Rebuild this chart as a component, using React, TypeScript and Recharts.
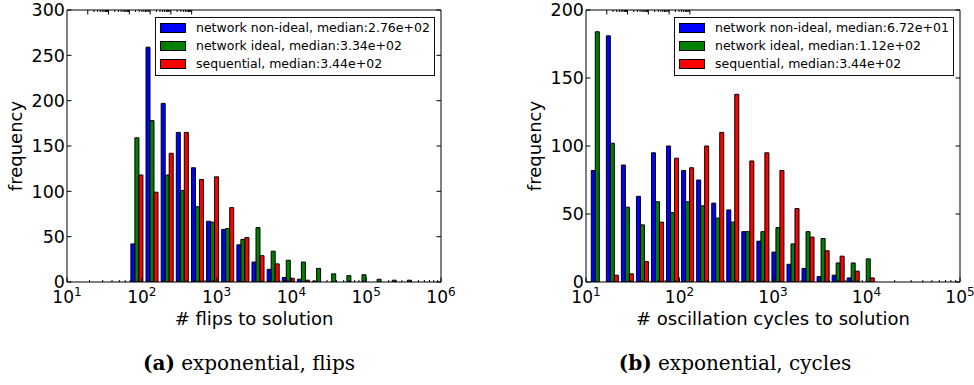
import React from 'react';
import { BarChart, Bar, XAxis, YAxis, Legend } from 'recharts';

// log10 of the bin centres (bins are equal width in log space)
const flipsBinLog = [1.935, 2.137, 2.34, 2.542, 2.745, 2.947, 3.149, 3.352, 3.554, 3.757, 3.959, 4.161, 4.364, 4.566, 4.769, 4.971, 5.173, 5.376, 5.578];
const flipsNonIdeal = [42, 259, 197, 165, 126, 67, 58, 41, 22, 14, 5, 3, 1, 0, 0, 0, 0, 0, 0];
const flipsIdeal = [159, 178, 118, 101, 83, 66, 59, 47, 60, 34, 24, 22, 15, 9, 7, 8, 3, 2, 2];
const flipsSequential = [118, 99, 142, 165, 113, 116, 82, 49, 29, 20, 4, 2, 0, 0, 0, 0, 0, 0, 0];

const cyclesBinLog = [1.121, 1.282, 1.443, 1.604, 1.765, 1.926, 2.087, 2.248, 2.409, 2.57, 2.731, 2.892, 3.053, 3.214, 3.375, 3.536, 3.697, 3.858, 4.019];
const cyclesNonIdeal = [82, 181, 86, 63, 95, 100, 82, 75, 58, 53, 37, 30, 22, 13, 10, 4, 5, 3, 0];
const cyclesIdeal = [184, 102, 55, 42, 59, 51, 59, 56, 47, 44, 37, 37, 40, 28, 37, 32, 14, 14, 17];
const cyclesSequential = [0, 5, 6, 15, 44, 91, 84, 100, 110, 138, 89, 95, 82, 54, 33, 23, 19, 8, 3];

const flipsNames = ['network non-ideal, median:2.76e+02', 'network ideal, median:3.34e+02', 'sequential, median:3.44e+02'];
const cyclesNames = ['network non-ideal, median:6.72e+01', 'network ideal, median:1.12e+02', 'sequential, median:3.44e+02'];
const seriesColors = ['#0000ff', '#008000', '#ff0000'];

const flipsYTicks = [0, 50, 100, 150, 200, 250, 300];
const cyclesYTicks = [0, 50, 100, 150, 200];

const FONT = 'DejaVu Sans';
const MAJOR = 4.5;
const MINOR = 2;
const CHART_H = 345;

// decade ticks plus the 2..9 minor ticks of a log axis, in log10 units
const logTicks = (lo: number, hi: number) => {
  const out: number[] = [];
  for (let n = lo; n <= hi; n++) {
    out.push(n);
    if (n < hi) for (let k = 2; k < 10; k++) out.push(n + Math.log10(k));
  }
  return out;
};

const isMajor = (v: number) => Math.abs(v - Math.round(v)) < 1e-6;

const BottomTick = (p: any) => {
  const v = p.payload.value;
  const major = isMajor(v);
  return (
    <g>
      <line x1={p.x} x2={p.x} y1={p.y} y2={p.y - (major ? MAJOR : MINOR)} stroke="#000" />
      {major && (
        <text x={p.x} y={p.y + 21} textAnchor="middle" fontSize={17} fontFamily={FONT} fill="#000">
          10<tspan dy={-7} fontSize={12}>{Math.round(v)}</tspan>
        </text>
      )}
    </g>
  );
};

const TopTick = (p: any) => {
  const major = isMajor(p.payload.value);
  return <line x1={p.x} x2={p.x} y1={p.y} y2={p.y + (major ? MAJOR : MINOR)} stroke="#000" />;
};

const LeftTick = (p: any) => (
  <g>
    <line x1={p.x} x2={p.x + MAJOR} y1={p.y} y2={p.y} stroke="#000" />
    <text x={p.x - 2} y={p.y} dy="0.36em" textAnchor="end" fontSize={17.5} fontFamily={FONT} fill="#000">
      {p.payload.value}
    </text>
  </g>
);

const RightTick = (p: any) => <line x1={p.x} x2={p.x - MAJOR} y1={p.y} y2={p.y} stroke="#000" />;

const LegendBox = ({ names }: { names: string[] }) => (
  <div style={{ border: '1px solid #111', background: '#fff', width: 278, height: 57, position: 'relative', fontFamily: FONT }}>
    {names.map((name, i) => (
      <div key={i} style={{ position: 'absolute', left: 0, top: 1 + i * 18.2, height: 18, width: 278 }}>
        <div style={{ position: 'absolute', left: 4, top: 4, width: 24, height: 8, background: seriesColors[i], border: '1px solid #000' }} />
        <div style={{ position: 'absolute', left: 40, top: 0, fontSize: 12.5, lineHeight: '18px', color: '#000', whiteSpace: 'nowrap' }}>
          {name}
        </div>
      </div>
    ))}
  </div>
);

type HistProps = {
  left: number;
  width: number;
  plotLeft: number;
  plotRight: number;
  bins: number[];
  nonIdeal: number[];
  ideal: number[];
  sequential: number[];
  names: string[];
  xLo: number;
  xHi: number;
  yTicks: number[];
  xTitle: string;
  legendLeft: number;
};

const Histogram = (h: HistProps) => {
  const data = h.bins.map((x, i) => ({ x, nonIdeal: h.nonIdeal[i], ideal: h.ideal[i], sequential: h.sequential[i] }));
  const xTicks = logTicks(h.xLo, h.xHi);
  const yDomain = [0, h.yTicks[h.yTicks.length - 1]];
  const top = 10;
  const bottom = 282;
  const midX = (h.plotLeft + h.plotRight) / 2 - h.left;
  // axes are 1px thick, so the margins leave that pixel out
  return (
    <div style={{ position: 'absolute', left: h.left, top: 0 }}>
      <BarChart
        width={h.width}
        height={CHART_H}
        data={data}
        margin={{ top: top - 1, bottom: CHART_H - bottom - 1, left: h.plotLeft - h.left - 1, right: h.left + h.width - h.plotRight - 1 }}
        barGap={0}
        barCategoryGap="10%"
      >
        <XAxis
          dataKey="x"
          type="number"
          domain={[h.xLo, h.xHi]}
          allowDataOverflow
          ticks={xTicks}
          interval={0}
          height={1}
          tickSize={0}
          tickMargin={0}
          tickLine={false}
          axisLine={{ stroke: '#000' }}
          tick={(p: any) => <BottomTick {...p} />}
          label={{
            content: () => (
              <text x={midX} y={325} textAnchor="middle" fontSize={18} fontFamily={FONT} fill="#000">
                {h.xTitle}
              </text>
            ),
          }}
        />
        <XAxis
          xAxisId="top"
          orientation="top"
          type="number"
          domain={[h.xLo, h.xHi]}
          allowDataOverflow
          ticks={xTicks}
          interval={0}
          height={1}
          tickSize={0}
          tickMargin={0}
          tickLine={false}
          axisLine={{ stroke: '#000' }}
          tick={(p: any) => <TopTick {...p} />}
        />
        <YAxis
          type="number"
          domain={yDomain}
          allowDataOverflow
          ticks={h.yTicks}
          interval={0}
          width={1}
          tickSize={0}
          tickMargin={0}
          tickLine={false}
          axisLine={{ stroke: '#000' }}
          tick={(p: any) => <LeftTick {...p} />}
          label={{
            content: () => (
              <text
                x={0}
                y={0}
                transform={`translate(${h.plotLeft - h.left - 45}, 146) rotate(-90)`}
                textAnchor="middle"
                fontSize={18}
                fontFamily={FONT}
                fill="#000"
              >
                frequency
              </text>
            ),
          }}
        />
        <YAxis
          yAxisId="right"
          orientation="right"
          type="number"
          domain={yDomain}
          allowDataOverflow
          ticks={h.yTicks}
          interval={0}
          width={1}
          tickSize={0}
          tickMargin={0}
          tickLine={false}
          axisLine={{ stroke: '#000' }}
          tick={(p: any) => <RightTick {...p} />}
        />
        <Legend
          layout="vertical"
          align="center"
          verticalAlign="middle"
          wrapperStyle={{ left: h.legendLeft - h.left, top: 17, width: 280, height: 59 }}
          content={() => <LegendBox names={h.names} />}
        />
        <Bar dataKey="nonIdeal" name={h.names[0]} fill={seriesColors[0]} stroke="#000" strokeWidth={1} isAnimationActive={false} />
        <Bar dataKey="ideal" name={h.names[1]} fill={seriesColors[1]} stroke="#000" strokeWidth={1} isAnimationActive={false} />
        <Bar dataKey="sequential" name={h.names[2]} fill={seriesColors[2]} stroke="#000" strokeWidth={1} isAnimationActive={false} />
      </BarChart>
    </div>
  );
};

export default function App() {
  return (
    <div style={{ position: 'absolute', left: 0, top: 0, width: 974, height: 385, background: '#fff', overflow: 'hidden' }}>
      <Histogram
        left={0}
        width={460}
        plotLeft={67}
        plotRight={441}
        bins={flipsBinLog}
        nonIdeal={flipsNonIdeal}
        ideal={flipsIdeal}
        sequential={flipsSequential}
        names={flipsNames}
        xLo={1}
        xHi={6}
        yTicks={flipsYTicks}
        xTitle="# flips to solution"
        legendLeft={155}
      />
      <Histogram
        left={500}
        width={474}
        plotLeft={586}
        plotRight={960}
        bins={cyclesBinLog}
        nonIdeal={cyclesNonIdeal}
        ideal={cyclesIdeal}
        sequential={cyclesSequential}
        names={cyclesNames}
        xLo={1}
        xHi={5}
        yTicks={cyclesYTicks}
        xTitle="# oscillation cycles to solution"
        legendLeft={674}
      />
      <svg width={974} height={385} style={{ position: 'absolute', left: 0, top: 0, pointerEvents: 'none' }}>
        <text x={249} y={370} textAnchor="middle" fontSize={20} fontFamily="DejaVu Serif" fill="#000">
          <tspan fontWeight="bold">(a)</tspan> exponential, flips
        </text>
        <text x={735} y={370} textAnchor="middle" fontSize={20} fontFamily="DejaVu Serif" fill="#000">
          <tspan fontWeight="bold">(b)</tspan> exponential, cycles
        </text>
      </svg>
    </div>
  );
}
